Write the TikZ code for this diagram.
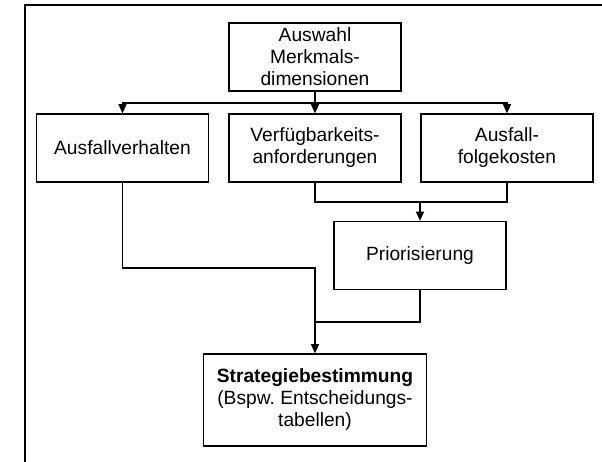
\documentclass[tikz,border=0pt]{standalone}
\usepackage{fontspec}
\setmainfont{Liberation Sans}
\usetikzlibrary{arrows.meta,positioning,calc}

\begin{document}
\begin{tikzpicture}[
    x=0.5pt, y=-0.5pt,
    block/.style={draw, rectangle, line width=0.7pt, minimum width=86pt, minimum height=34pt, inner sep=0pt, align=center, font=\fontsize{9.6}{11}\selectfont},
    edge/.style={-{Triangle[length=4.6pt,width=4pt]}, line width=0.7pt},
    link/.style={line width=0.7pt},
]

\useasboundingbox (0,0) rectangle (602,462);

% Frame
\draw[link] (25,462) -- (25,5) -- (602,5);

% Top
\node[block] (auswahl) at (315,57) {Auswahl\\Merkmals-\\dimensionen};

% Feature dimensions
\node[block] (verhalten) at (122.5,148) {Ausfallverhalten};
\node[block] (verfueg) at (315,148) {Verfügbarkeits-\\anforderungen};
\node[block] (folge) at (507,148) {Ausfall-\\folgekosten};

% Priorisation
\node[block] (prio) at (420,255.5) {Priorisierung};

% Strategy
\node[block, minimum width=111.5pt, minimum height=46pt] (strat) at (315,400) {\textbf{Strategiebestimmung}\\(Bspw.\ Entscheidungs-\\tabellen)};

% Junctions
\coordinate (bus) at (315,103);
\coordinate (join1) at (420,202);
\coordinate (bend) at (315,268);
\coordinate (join2) at (315,322);

\draw[link] (auswahl) -- (bus);
\draw[edge] (bus) -| (verhalten.north);
\draw[edge] (bus) -| (folge.north);
\draw[edge] (auswahl) -- (verfueg);

\draw[link] (verfueg.south) |- (join1) -| (folge.south);
\draw[edge] (join1) -- (prio);

\draw[edge] (verhalten.south) |- (bend) -- (strat.north);
\draw[link] (prio.south) |- (join2);

\end{tikzpicture}
\end{document}
